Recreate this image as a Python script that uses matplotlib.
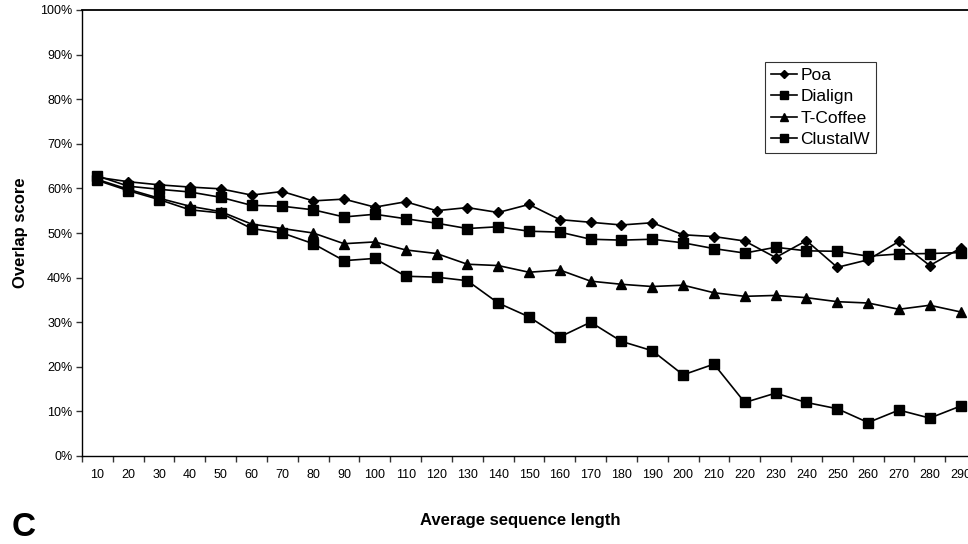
import matplotlib
matplotlib.use("Agg")
import matplotlib.pyplot as plt
from matplotlib.ticker import FixedLocator, FuncFormatter

plt.rcParams['font.family'] = ['Liberation Sans', 'DejaVu Sans']

lengths = [10, 20, 30, 40, 50, 60, 70, 80, 90, 100, 110, 120, 130, 140, 150,
           160, 170, 180, 190, 200, 210, 220, 230, 240, 250, 260, 270, 280, 290]
poa = [62.5, 61.5, 60.8, 60.3, 59.9, 58.5, 59.3, 57.2, 57.6, 55.8, 57.0, 55.0, 55.7, 54.6, 56.4,
       53.0, 52.4, 51.8, 52.3, 49.6, 49.2, 48.2, 44.5, 48.3, 42.3, 44.0, 48.1, 42.7, 46.6]
dialign = [62.8, 60.5, 59.8, 59.2, 58.0, 56.2, 56.0, 55.2, 53.6, 54.2, 53.2, 52.2, 51.0, 51.4, 50.4,
           50.2, 48.6, 48.4, 48.6, 47.8, 46.5, 45.5, 46.8, 46.0, 45.9, 44.8, 45.3, 45.4, 45.6]
tcoffee = [62.0, 59.8, 57.8, 56.0, 54.8, 52.0, 51.0, 50.0, 47.6, 48.0, 46.2, 45.4, 43.0, 42.7, 41.2,
           41.7, 39.2, 38.5, 38.0, 38.3, 36.6, 35.8, 36.0, 35.5, 34.6, 34.3, 32.9, 33.8, 32.3]
clustalw = [61.8, 59.5, 57.5, 55.2, 54.5, 51.0, 50.0, 47.6, 43.8, 44.3, 40.3, 40.1, 39.3, 34.3, 31.2,
            26.7, 30.0, 25.7, 23.6, 18.2, 20.6, 12.0, 14.1, 12.0, 10.6, 7.5, 10.3, 8.5, 11.2]
series_names = ['Poa', 'Dialign', 'T-Coffee', 'ClustalW']
y_ticks = [0, 10, 20, 30, 40, 50, 60, 70, 80, 90, 100]

W, H = 968, 544
fig = plt.figure(figsize=(W / 100, H / 100), dpi=100)
left_px, right_px, top_px, bot_px = 82, 976, 10, 456
ax = fig.add_axes([left_px / W, 1 - bot_px / H, (right_px - left_px) / W, (bot_px - top_px) / H])

xs = list(range(len(lengths)))
styles = [dict(marker='D', ms=5.5), dict(marker='s', ms=7), dict(marker='^', ms=7.5), dict(marker='s', ms=7)]
for vals, name, st in zip([poa, dialign, tcoffee, clustalw], series_names, styles):
    ax.plot(xs, vals, color='black', lw=1.2, mfc='black', mec='black', label=name,
            clip_on=False, **st)

ax.set_xlim(-0.5, len(lengths) - 0.5)
ax.set_ylim(0, 100)

ax.set_xticks(xs)
ax.set_xticklabels([str(v) for v in lengths], fontsize=9)
ax.tick_params(axis='x', which='major', length=0, pad=9)
ax.xaxis.set_minor_locator(FixedLocator([i - 0.5 for i in range(len(lengths) + 1)]))
ax.tick_params(axis='x', which='minor', length=4, width=1, direction='out', color='#333333')

ax.set_yticks(y_ticks)
ax.yaxis.set_major_formatter(FuncFormatter(lambda v, p: f"{int(v)}%"))
ax.tick_params(axis='y', labelsize=9, length=4, width=1, direction='out', pad=3, color='#333333')

for s in ['left', 'bottom', 'top']:
    ax.spines[s].set_color('black')
    ax.spines[s].set_linewidth(1.0)
ax.spines['top'].set_linewidth(1.3)
ax.spines['right'].set_visible(False)

ax.set_ylabel('Overlap score', fontsize=12, fontweight='bold', labelpad=9)
fig.text(520 / W, 1 - 520 / H, 'Average sequence length', fontsize=12, fontweight='bold',
         ha='center', va='center')
fig.text(12 / W, 1 / H, 'C', fontsize=24, fontweight='bold', ha='left', va='bottom')

leg = ax.legend(loc='upper left', bbox_to_anchor=((765 - left_px) / (right_px - left_px),
                                                  (bot_px - 62) / (bot_px - top_px)),
                fontsize=12.5, frameon=True, fancybox=False, edgecolor='black',
                handlelength=1.5, handletextpad=0.2, borderpad=0.35, labelspacing=0.35,
                borderaxespad=0, markerscale=0.75)
leg.get_frame().set_linewidth(0.8)

fig.savefig('out.png', dpi=100)
